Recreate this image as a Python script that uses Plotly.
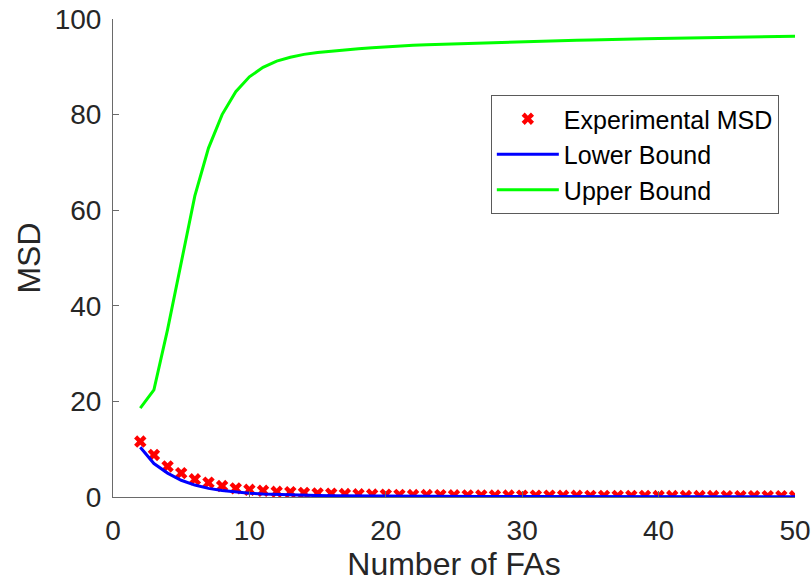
import plotly.graph_objects as go

num_fas = list(range(2, 51))

experimental_msd = [11.6, 8.8, 6.4, 5.0, 3.7, 3.0, 2.3, 1.8, 1.5, 1.3,
                    1.1, 1.0, 0.85, 0.75, 0.7, 0.62, 0.57, 0.52, 0.48, 0.45,
                    0.42, 0.4, 0.38, 0.36, 0.34, 0.33, 0.31, 0.3, 0.29, 0.28,
                    0.27, 0.26, 0.25, 0.24, 0.24, 0.23, 0.22, 0.22, 0.21, 0.2,
                    0.2, 0.19, 0.19, 0.18, 0.18, 0.17, 0.17, 0.17, 0.16]

lower_bound = [10.4, 7.0, 5.0, 3.5, 2.5, 1.8, 1.35, 1.0, 0.8, 0.62,
               0.5, 0.42, 0.35, 0.3, 0.26, 0.23, 0.2, 0.18, 0.16, 0.15,
               0.14, 0.13, 0.12, 0.11, 0.1, 0.095, 0.09, 0.085, 0.08, 0.078,
               0.076, 0.074, 0.072, 0.07, 0.068, 0.066, 0.064, 0.062, 0.06, 0.059,
               0.058, 0.057, 0.056, 0.055, 0.054, 0.053, 0.052, 0.051, 0.05]

upper_bound = [18.6, 22.4, 35.0, 49.0, 63.0, 73.0, 80.0, 84.8, 87.9, 89.9,
               91.2, 92.0, 92.6, 93.0, 93.3, 93.6, 93.8, 94.0, 94.2, 94.4,
               94.5, 94.6, 94.7, 94.8, 94.9, 95.0, 95.1, 95.2, 95.3, 95.35,
               95.4, 95.5, 95.55, 95.6, 95.7, 95.75, 95.8, 95.85, 95.9, 95.95,
               96.0, 96.05, 96.1, 96.15, 96.2, 96.25, 96.3, 96.35, 96.4]

x_ticks = [0, 10, 20, 30, 40, 50]
y_ticks = [0, 20, 40, 60, 80, 100]

FONT = "Liberation Sans, Arial, sans-serif"
AXIS_COLOR = "#6a6a6a"

fig = go.Figure()
fig.add_trace(go.Scatter(
    x=num_fas, y=experimental_msd, mode="markers", name="Experimental MSD",
    marker=dict(symbol="x", size=11, color="#ff0000", line=dict(width=0)),
))
fig.add_trace(go.Scatter(
    x=num_fas, y=lower_bound, mode="lines", name="Lower Bound",
    line=dict(color="#0000ff", width=3),
))
fig.add_trace(go.Scatter(
    x=num_fas, y=upper_bound, mode="lines", name="Upper Bound",
    line=dict(color="#00ff00", width=3),
))

axis_common = dict(
    showgrid=False, zeroline=False, showline=True, linecolor=AXIS_COLOR,
    linewidth=1, ticks="inside", ticklen=6, tickcolor=AXIS_COLOR, tickwidth=1,
    mirror=False, automargin=False,
    tickfont=dict(family=FONT, size=28, color="#262626"),
)

fig.update_layout(
    width=811, height=586,
    margin=dict(l=113, r=16, t=19, b=89),
    paper_bgcolor="white", plot_bgcolor="white",
    font=dict(family=FONT, color="#262626"),
    xaxis=dict(range=[0, 50], tickvals=x_ticks, ticktext=[str(v) for v in x_ticks],
               title=dict(text="Number of FAs", font=dict(family=FONT, size=32, color="#262626"), standoff=6),
               ticklabelstandoff=8, **axis_common),
    yaxis=dict(range=[0, 100], tickvals=y_ticks, ticktext=[str(v) for v in y_ticks],
               title=dict(text="MSD", font=dict(family=FONT, size=32, color="#262626"), standoff=4),
               ticklabelstandoff=5, **axis_common),
    legend=dict(
        x=0.554, y=0.841, xanchor="left", yanchor="top",
        bgcolor="white", bordercolor="#5a5a5a", borderwidth=1,
        font=dict(family=FONT, size=25, color="#000000"),
        itemwidth=62, tracegroupgap=0,
    ),
    showlegend=True,
)

fig.write_html("out.html")
